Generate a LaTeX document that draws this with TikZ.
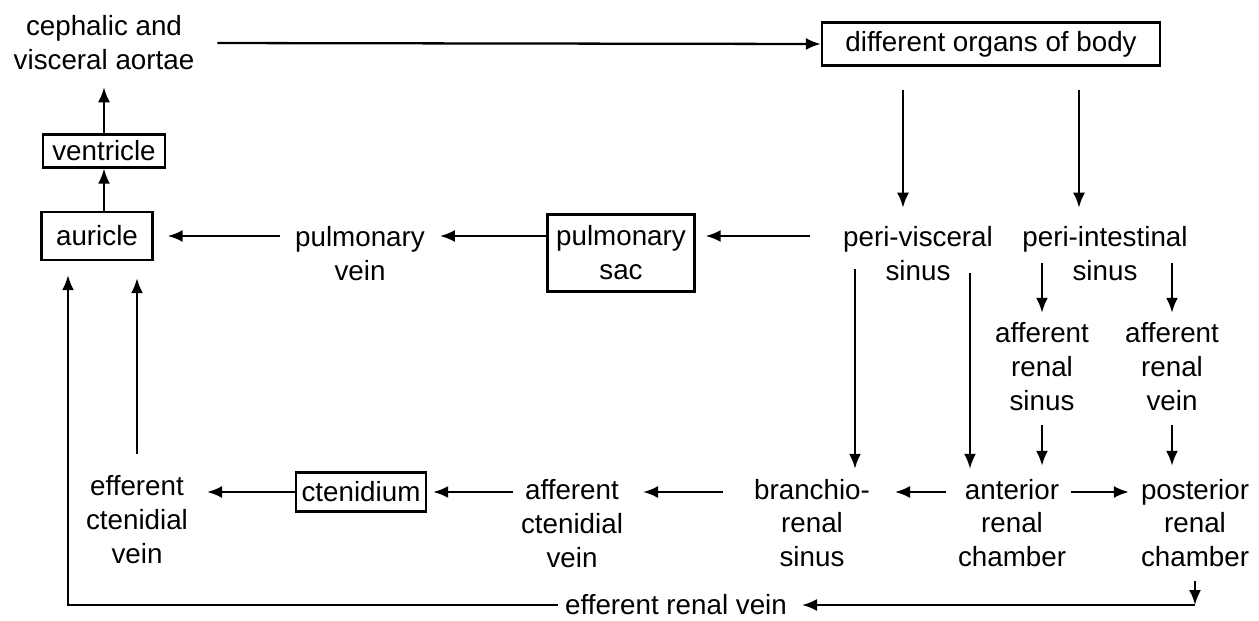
\documentclass[tikz,border=0pt]{standalone}
\usepackage{fontspec}
\setmainfont{Liberation Sans}
\usepackage{tikz}
\usetikzlibrary{arrows.meta,positioning}
\tikzset{
	blk/.style={draw, line width=1.3pt, inner sep=1pt, align=center},
	txt/.style={inner sep=1pt, align=center},
	arr/.style={line width=1.3pt, ->},
}

\begin{document}
\begin{tikzpicture}[x=1cm, y=1cm, >={Latex[length=3mm,width=2.4mm]},
		font=\fontsize{15.8}{19.3}\selectfont]
	\useasboundingbox (0,0) rectangle (25.18,-12.42);
	% top row
	\node[txt] at (2.08,-0.86) (aor) {cephalic and\\visceral aortae};
	\node[blk, minimum width=6.76cm, minimum height=0.86cm] at (19.82,-0.88) (org) {different organs of body};
	\node[blk, minimum width=2.44cm, minimum height=0.66cm] at (2.08,-3.02) (ven) {ventricle};
	% second row
	\node[blk, minimum width=2.22cm, minimum height=0.96cm] at (1.94,-4.72) (aur) {auricle};
	\node[txt] at (7.20,-5.08) (pv) {pulmonary\\vein};
	\node[blk, minimum width=2.94cm, minimum height=1.54cm] at (12.42,-5.06) (sac) {pulmonary\\sac};
	\node[txt] at (18.36,-5.08) (pvs) {peri-visceral\\sinus};
	\node[txt] at (22.10,-5.08) (pis) {peri-intestinal\\sinus};
	\node[txt] at (20.84,-7.34) (ars) {afferent\\renal\\sinus};
	\node[txt] at (23.44,-7.34) (arv) {afferent\\renal\\vein};
	% third row
	\node[txt] at (2.74,-10.40) (ecv) {efferent\\ctenidial\\vein};
	\node[blk, minimum width=2.60cm, minimum height=0.78cm] at (7.22,-9.84) (cten) {ctenidium};
	\node[txt] at (11.44,-10.48) (acv) {afferent\\ctenidial\\vein};
	\node[txt] at (16.24,-10.46) (brs) {branchio-\\renal\\sinus};
	\node[txt] at (20.24,-10.46) (arc) {anterior\\renal\\chamber};
	\node[txt] at (23.90,-10.46) (prc) {posterior\\renal\\chamber};
	\node[txt] at (13.52,-12.10) (erv) {efferent renal vein};
	\coordinate (cr) at (prc.south |- erv.east);

	% heart and aortae
	\draw[arr, shorten <=0.42cm] (aor.east) -- (org.west);
	\draw[arr, shorten >=0.30cm] (ven.north) -- (aor.south);
	\draw[arr] (ven.south |- aur.north) -- (ven.south);
	% pulmonary circuit
	\draw[arr, shorten <=0.26cm, shorten >=0.28cm] (pv.west |- aur) -- (aur.east);
	\draw[arr, shorten >=0.26cm] (sac.west |- aur) -- (pv.east |- aur);
	\draw[arr, shorten <=0.62cm, shorten >=0.20cm] (pvs.west |- aur) -- (sac.east |- aur);
	\draw[arr, shorten <=0.46cm, shorten >=0.34cm] ([xshift=-0.30cm]pvs.north |- org.south) -- ([xshift=-0.30cm]pvs.north);
	\draw[arr, shorten <=0.46cm, shorten >=0.34cm] ([xshift=-0.52cm]pis.north |- org.south) -- ([xshift=-0.52cm]pis.north);
	% renal sinuses
	\draw[arr, shorten <=0.18cm, shorten >=0.16cm] (ars.north |- pis) -- (ars.north);
	\draw[arr, shorten <=0.18cm, shorten >=0.16cm] (arv.north |- pis) -- (arv.north);
	\draw[arr, shorten <=0.24cm, shorten >=0.22cm] (ars.south) -- (ars.south |- arc.north);
	\draw[arr, shorten <=0.24cm, shorten >=0.22cm] (arv.south) -- (arv.south |- prc.north);
	\draw[arr, shorten <=0.30cm, shorten >=0.16cm] ([xshift=0.86cm]brs.north |- pvs) -- ([xshift=0.86cm]brs.north);
	\draw[arr, shorten <=0.38cm, shorten >=0.16cm] ([xshift=-0.84cm]arc.north |- pvs) -- ([xshift=-0.84cm]arc.north);
	% ctenidial circuit
	\draw[arr, shorten <=0.20cm, shorten >=0.46cm] (arc.west |- cten) -- (brs.east |- cten);
	\draw[arr, shorten <=0.06cm, shorten >=0.20cm] (arc.east |- cten) -- (prc.west |- cten);
	\draw[arr, shorten <=0.58cm, shorten >=0.36cm] (brs.west |- cten) -- (acv.east |- cten);
	\draw[arr, shorten <=0.12cm, shorten >=0.12cm] (acv.west |- cten) -- (cten.east);
	\draw[arr, shorten >=0.34cm] (cten.west) -- (ecv.east |- cten);
	\draw[arr, shorten <=0.40cm, shorten >=0.34cm] (ecv.north) -- (ecv.north |- aur.south);
	% return to auricle
	\draw[arr, shorten <=0.24cm] (prc.south) -- (cr);
	\draw[arr, shorten >=0.26cm] (cr) -- (erv.east);
	\draw[arr, shorten <=0.10cm, shorten >=0.28cm] (erv.west) -| ([xshift=-0.58cm]aur.south);
\end{tikzpicture}
\end{document}
